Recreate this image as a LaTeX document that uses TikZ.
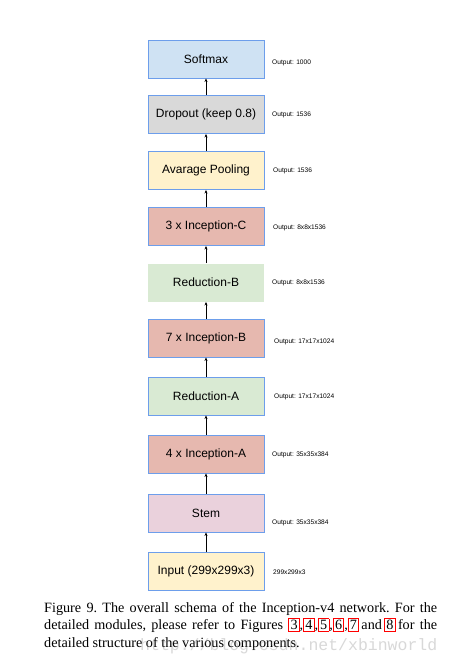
\documentclass[tikz,border=0pt]{standalone}
\usepackage{fontspec}
\setmainfont{Liberation Serif}
\setsansfont{Liberation Sans}
\newfontfamily\wmfont{Liberation Mono}
\usetikzlibrary{arrows.meta}
\definecolor{bordblue}{HTML}{6D9EEB}
\definecolor{cblue}{HTML}{CFE2F3}
\definecolor{cgray}{HTML}{D9D9D9}
\definecolor{cyellow}{HTML}{FFF2CC}
\definecolor{cred}{HTML}{E6B8AF}
\definecolor{cgreen}{HTML}{D9EAD3}
\definecolor{cpink}{HTML}{EAD1DC}
\newcommand{\rbx}[1]{{\setlength{\fboxsep}{1.2pt}\setlength{\fboxrule}{0.9pt}\fcolorbox{red}{white}{#1}}}
\begin{document}
\begin{tikzpicture}[x=1pt,y=1pt,
  layer/.style={rectangle, draw=bordblue, line width=0.9pt, minimum width=116pt, minimum height=38pt, inner sep=0pt, font=\sffamily\fontsize{12}{14}\selectfont},
  nob/.style={draw=none},
  outlbl/.style={anchor=west, inner sep=0pt, font=\sffamily\fontsize{6.6}{8}\selectfont},
  conn/.style={-{Stealth[length=3.5pt,width=3pt]}, line width=0.8pt}]
\useasboundingbox (0,0) rectangle (449,-662);
\fill[white] (0,0) rectangle (449,-662);
\node[layer, fill=cblue]   (soft) at (206,-59)    {Softmax};
\node[layer, fill=cgray]   (drop) at (206,-114.5) {Dropout (keep 0.8)};
\node[layer, fill=cyellow] (pool) at (206,-170.5) {Avarage Pooling};
\node[layer, fill=cred]    (incc) at (206,-226.5) {3 x Inception-C};
\node[layer, fill=cgreen, nob] (redb) at (206,-282.5) {Reduction-B};
\node[layer, fill=cred]    (incb) at (206,-338)   {7 x Inception-B};
\node[layer, fill=cgreen]  (reda) at (206,-396)   {Reduction-A};
\node[layer, fill=cred]    (inca) at (206,-454)   {4 x Inception-A};
\node[layer, fill=cpink]   (stem) at (206,-513)   {Stem};
\node[layer, fill=cyellow] (inp)  at (206,-571.5) {Input (299x299x3)};

\draw[conn] (drop.north) -- (soft.south);
\draw[conn] (pool.north) -- (drop.south);
\draw[conn] (incc.north) -- (pool.south);
\draw[conn] (redb.north) -- (incc.south);
\draw[conn] (incb.north) -- (redb.south);
\draw[conn] (reda.north) -- (incb.south);
\draw[conn] (inca.north) -- (reda.south);
\draw[conn] (stem.north) -- (inca.south);
\draw[conn] (inp.north) -- (stem.south);

\node[outlbl] (o1)  at (272,-63)  {Output: 1000};
\node[outlbl] (o2)  at (272,-115) {Output: 1536};
\node[outlbl] (o3)  at (273,-171) {Output: 1536};
\node[outlbl] (o4)  at (273,-228) {Output: 8x8x1536};
\node[outlbl] (o5)  at (272,-283) {Output: 8x8x1536};
\node[outlbl] (o6)  at (274,-342) {Output: 17x17x1024};
\node[outlbl] (o7)  at (274,-397) {Output: 17x17x1024};
\node[outlbl] (o8)  at (272,-455) {Output: 35x35x384};
\node[outlbl] (o9)  at (272,-523) {Output: 35x35x384};
\node[outlbl] (o10) at (273,-572) {299x299x3};

\node[anchor=north west, inner sep=0pt, text width=393pt, align=justify,
  font=\frenchspacing\fontsize{14.2}{17.5}\selectfont] (cap) at (44,-602)
  {Figure 9. The overall schema of the Inception-v4 network. For the\linebreak
   detailed modules, please refer to Figures \rbx{3},\rbx{4},\rbx{5},\rbx{6},\rbx{7}\,and\,\rbx{8}\,for the\linebreak
   detailed structure of the various components.};
\node[anchor=base west, inner sep=0pt, text=gray, opacity=0.3,
  font=\wmfont\fontsize{16.5}{18}\selectfont] (wm) at (140,-650) {http://blog.csdn.net/xbinworld};
\end{tikzpicture}
\end{document}
